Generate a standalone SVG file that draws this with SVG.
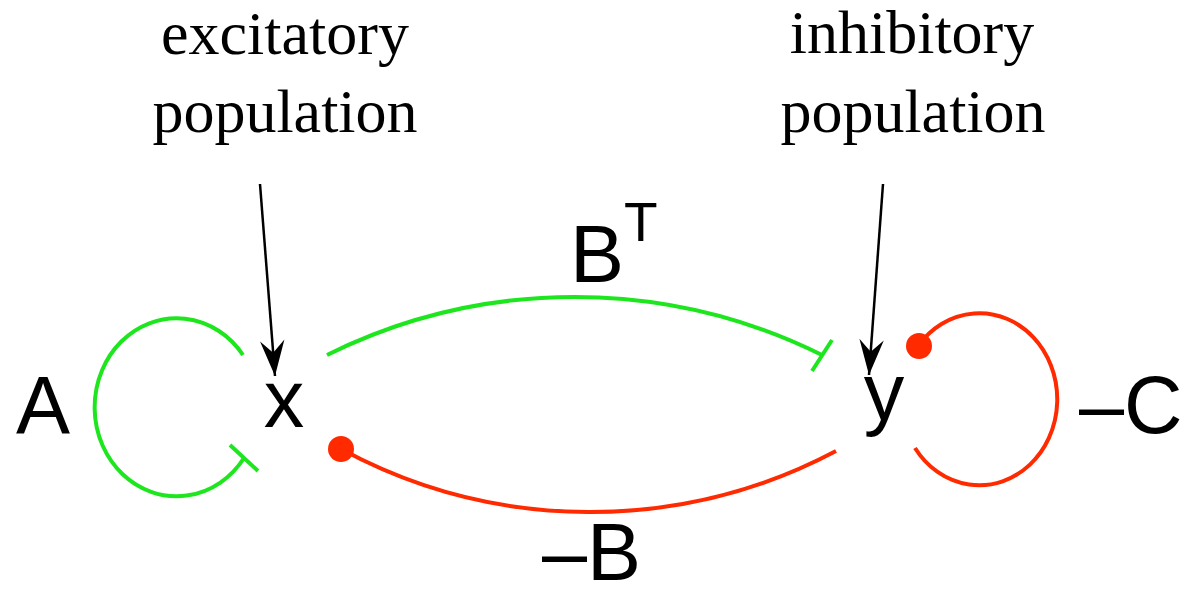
<svg xmlns="http://www.w3.org/2000/svg" width="1186" height="597" viewBox="0 0 1186 597">
<style>
.serif{font-family:"Liberation Serif","Times New Roman",serif;font-size:62px;fill:#000;text-anchor:middle}
.sans{font-family:"Liberation Sans",Arial,sans-serif;font-size:81px;fill:#000}
.g{fill:none;stroke:#1ee61e;stroke-width:4}
.r{fill:none;stroke:#ff2a00;stroke-width:4}
.dot{fill:#ff2a00}
.ptr{fill:none;stroke:#000;stroke-width:2.5}
</style>
<defs>
<marker id="stealth" markerUnits="userSpaceOnUse" markerWidth="40" markerHeight="30" viewBox="-34 -13 36 26" refX="0" refY="0" orient="auto">
<path d="M0,0 L-32,-11 L-21,0 L-32,11 Z" fill="#000"/>
</marker>
</defs>
<g id="label-excitatory">
<text class="serif" x="285" y="54">excitatory</text>
<text class="serif" x="285" y="132">population</text>
</g>
<g id="label-inhibitory">
<text class="serif" x="912" y="53">inhibitory</text>
<text class="serif" x="913" y="132">population</text>
</g>
<g id="node-x"><text class="sans" x="284" y="427" text-anchor="middle">x</text></g>
<g id="node-y"><text class="sans" x="884" y="420" text-anchor="middle">y</text></g>
<g id="label-A"><text class="sans" x="43" y="433" text-anchor="middle">A</text></g>
<g id="label-C"><text class="sans" x="1079" y="433">–C</text></g>
<g id="label-BT"><text class="sans" x="570" y="282">B</text><text class="sans" x="624" y="241" style="font-size:55px">T</text></g>
<g id="label-negB"><text class="sans" x="542" y="580">–B</text></g>
<g id="connectors">
<path class="g" d="M243,355 A82,89 0 1 0 244,458"/>
<line class="g" x1="230" y1="445" x2="258" y2="471"/>
<path class="g" d="M327,355 A557,557 0 0 1 822,355"/>
<line class="g" x1="832" y1="340" x2="812" y2="371"/>
<path class="r" d="M341,449 A525,525 0 0 0 836,451"/>
<circle class="dot" cx="341" cy="449" r="13"/>
<path class="r" d="M918,346 A78,86 0 1 1 915,448"/>
<circle class="dot" cx="919" cy="346" r="13"/>
<line class="ptr" x1="260" y1="184" x2="275" y2="376" marker-end="url(#stealth)"/>
<line class="ptr" x1="883" y1="184" x2="869" y2="375" marker-end="url(#stealth)"/>
</g>
</svg>
